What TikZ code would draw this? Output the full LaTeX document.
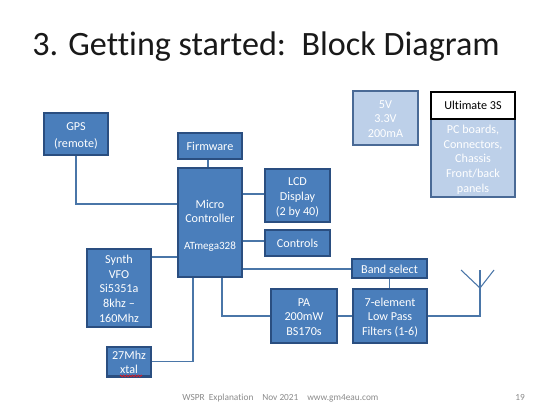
\documentclass[tikz,border=0pt]{standalone}
\usepackage{fontspec}
\setmainfont[Ligatures=NoCommon,Contextuals=NoAlternate]{Carlito}
\usetikzlibrary{decorations.pathmorphing}
\definecolor{bfill}{HTML}{4A7EBB}
\definecolor{bline}{HTML}{2A4E80}
\definecolor{lfill}{HTML}{BDD0E9}
\definecolor{lline}{HTML}{4A6A96}
\definecolor{wire}{HTML}{4A76A8}
\definecolor{foot}{HTML}{8B8B8B}
\definecolor{squig}{HTML}{D81E2A}
\tikzset{
  x=0.75pt,y=-0.75pt,
  blockbox/.style={draw=bline,fill=bfill,line width=1.6pt,text=white,font=\fontsize{9.1pt}{11.2pt}\selectfont,inner sep=0pt,anchor=center},
  lightbox/.style={blockbox,draw=lline,fill=lfill},
  wireline/.style={draw=wire,line width=0.8pt},
  footer/.style={text=foot,font=\fontsize{7pt}{8pt}\selectfont,inner sep=0pt,anchor=base west}
}
\newcommand{\bx}[7][blockbox]{% style,name,x1,y1,x2,y2,text
  \node[#1,minimum width=#5*0.75pt-#3*0.75pt-1.5pt,minimum height=#6*0.75pt-#4*0.75pt-1.5pt] (#2) at ({(#3+#5)/2},{(#4+#6)/2}) {\raisebox{-1.5pt}[\height][\depth]{\begin{tabular}{@{}c@{}}#7\end{tabular}}};}
\begin{document}
\begin{tikzpicture}
\useasboundingbox (0,0) rectangle (555,418);
\fill[white] (0,0) rectangle (555,418);
\node[inner sep=0pt,anchor=base west,font=\fontsize{25.6pt}{28pt}\selectfont,text=black!90] (title) at (32,55) {3. Getting started:\ \ Block Diagram};
% junction points on the microcontroller and elsewhere
\coordinate (mgps) at (177,204);
\coordinate (mfirm) at (208,167);
\coordinate (mlcd) at (243,194);
\coordinate (mctl) at (243,241);
\coordinate (msyn) at (177,257);
\coordinate (mband) at (243,269);
\coordinate (mpa) at (222,278);
\coordinate (mxt) at (193,278);
\coordinate (mast) at (480,288);
\coordinate (masttop) at (480,270);
\coordinate (armL) at (461,270);
\coordinate (armR) at (494,270);
\bx{gps}{43}{112}{109}{156}{GPS\\[1.5pt](remote)}
\bx{firm}{177}{132}{243}{160}{Firmware}
\bx{micro}{177}{167}{243}{278}{\mbox{}\\[-9pt]Micro\\Controller\\[9pt]{\fontsize{8.3pt}{10pt}\selectfont ATmega328}}
\bx{lcd}{264}{168}{331}{223}{LCD\\Display\\(2 by 40)}
\bx{ctl}{264}{229}{331}{257}{Controls}
\bx{syn}{86}{248}{152}{328}{Synth\\VFO\\Si5351a\\8khz --\\160Mhz}
\bx{xt}{106}{347}{152}{376}{27Mhz\\xtal}
\bx{pa}{270}{288}{338}{344}{PA\\200mW\\BS170s}
\bx{lpf}{352}{288}{428}{344}{7-element\\Low Pass\\Filters (1-6)}
\bx{band}{351}{258}{428}{279}{Band select}
\bx[lightbox]{pwr}{352}{90}{419}{146}{5V\\3.3V\\200mA}
\bx[lightbox]{parts}{430}{118}{516}{198}{PC boards,\\Connectors,\\Chassis\\Front/back\\panels}
\node[draw=black,fill=white,line width=1.5pt,text=black,font=\fontsize{9.1pt}{10pt}\selectfont,inner sep=0pt,minimum width=63.5pt,minimum height=20pt] (ult) at (473,105.3) {Ultimate 3S};
\draw[wireline] (gps.south) |- (mgps);
\draw[wireline] (firm.south -| mfirm) -- (mfirm);
\draw[wireline] (mlcd) -- (mlcd -| lcd.west);
\draw[wireline] (mctl) -- (mctl -| ctl.west);
\draw[wireline] (msyn) -- (msyn -| syn.east);
\draw[wireline] (mband) -- (mband -| band.west);
\draw[wireline] (mpa) |- (pa.west);
\draw[wireline] (mxt) |- (xt.east);
\draw[wireline] (pa.east) -- (lpf.west);
\draw[wireline] (lpf.north -| band.south) -- (band.south);
\draw[wireline] (lpf.east) -| (mast);
\draw[wireline] (armL) -- (mast) -- (armR);
\draw[wireline] (mast) -- (masttop);
% spelling squiggle
\coordinate (sqa) at (120,376);
\coordinate (sqb) at (142,376);
\draw[squig,line width=0.55pt,decorate,decoration={zigzag,segment length=2.2pt,amplitude=0.7pt}] (sqa) -- (sqb);
% footer
\node[footer] (f1) at (182,400) {WSPR\ \ Explanation};
\node[footer] (f2) at (262,400) {Nov 2021};
\node[footer] (f3) at (307,400) {www.gm4eau.com};
\node[footer] (f4) at (515,400) {19};
\end{tikzpicture}
\end{document}
